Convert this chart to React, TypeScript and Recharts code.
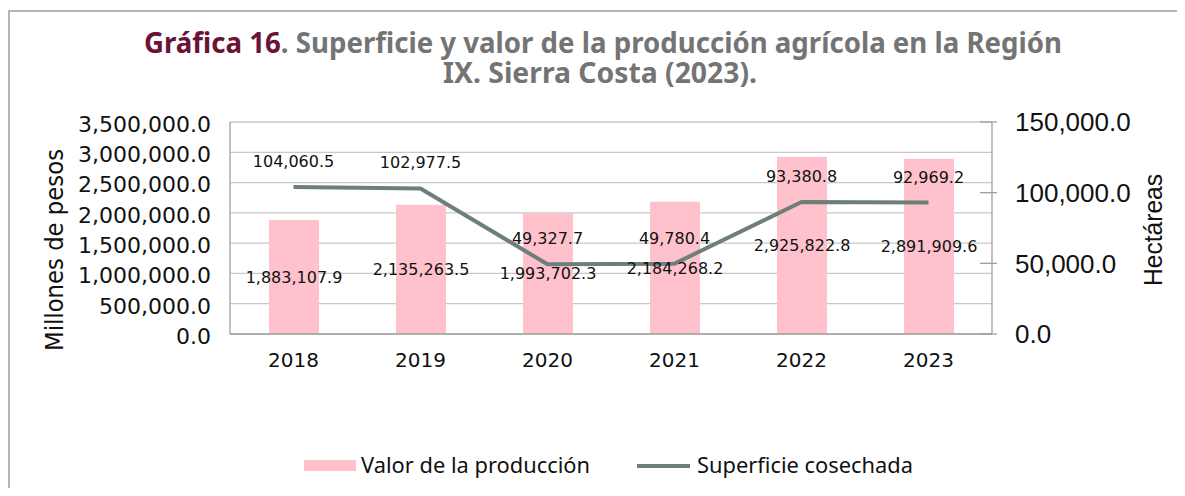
import React from 'react';
import { ComposedChart, Bar, Line, XAxis, YAxis, CartesianGrid, LabelList, Legend } from 'recharts';

const categories = ['2018', '2019', '2020', '2021', '2022', '2023'];
const valorProduccion = [1883107.9, 2135263.5, 1993702.3, 2184268.2, 2925822.8, 2891909.6];
const superficieCosechada = [104060.5, 102977.5, 49327.7, 49780.4, 93380.8, 92969.2];
const leftTicks = [0, 500000, 1000000, 1500000, 2000000, 2500000, 3000000, 3500000];
const rightTicks = [0, 50000, 100000, 150000];

const data = categories.map((c, i) => ({
  year: c,
  valor: valorProduccion[i],
  superficie: superficieCosechada[i],
}));

const fmt = (v: number) =>
  Number(v).toLocaleString('en-US', { minimumFractionDigits: 1, maximumFractionDigits: 1 });

const W = 1177;
const H = 480;
const MONO = 'DejaVu Sans';
const BAR = '#FFC2CD';
const LINE = '#6E7E7B';

const RightTick = (props: any) => {
  const { x, y, payload } = props;
  const ax = x - 23;
  return (
    <g>
      <line x1={ax - 12} x2={ax + 5} y1={y} y2={y} stroke="#a0a0a0" strokeWidth={1.3} />
      <text x={x} y={y} dy="0.355em" textAnchor="start" fontFamily="Liberation Sans" fontSize={26} fill="#111">
        {fmt(payload.value)}
      </text>
    </g>
  );
};

const LegendContent = () => (
  <svg width={W} height={30} style={{ display: 'block' }}>
    <rect x={296} y={9} width={52} height={11} fill={BAR} />
    <text x={353} y={22} fontFamily="Noto Sans" fontSize={21} fill="#111" textLength={229} lengthAdjust="spacingAndGlyphs">
      Valor de la producción
    </text>
    <line x1={629} x2={682} y1={15} y2={15} stroke={LINE} strokeWidth={4} />
    <text x={689} y={22} fontFamily="Noto Sans" fontSize={21} fill="#111" textLength={216} lengthAdjust="spacingAndGlyphs">
      Superficie cosechada
    </text>
  </svg>
);

export default function App() {
  return (
    <div style={{ position: 'relative', width: W, height: H }}>
      <div
        style={{
          position: 'absolute',
          left: 0,
          top: 2,
          width: W - 2,
          height: H - 2,
          borderLeft: '2px solid #b4b4b4',
          borderTop: '2px solid #b4b4b4',
        }}
      />
      <div style={{ position: 'absolute', left: 0, top: 0 }}>
        <ComposedChart width={W} height={H} data={data} margin={{ top: 114, right: 0, bottom: 0, left: 0 }}>
          <CartesianGrid horizontal vertical={false} stroke="#c8c8c8" strokeWidth={1.3} yAxisId="left" />
          <XAxis
            dataKey="year"
            height={154}
            tickLine={false}
            tickSize={0}
            tickMargin={19}
            axisLine={{ stroke: '#a0a0a0', strokeWidth: 1.3 }}
            tick={{ fontFamily: MONO, fontSize: 20, fill: '#111' }}
          />
          <YAxis
            yAxisId="left"
            orientation="left"
            width={222}
            domain={[0, 3500000]}
            ticks={leftTicks}
            interval={0}
            tickLine={false}
            tickSize={0}
            tickMargin={19}
            axisLine={{ stroke: '#a0a0a0', strokeWidth: 1.3 }}
            tickFormatter={fmt}
            tick={{ fontFamily: MONO, fontSize: 22, fill: '#111', dy: 2 }}
          />
          <YAxis
            yAxisId="right"
            orientation="right"
            width={193}
            domain={[0, 150000]}
            ticks={rightTicks}
            interval={0}
            tickLine={false}
            tickSize={0}
            tickMargin={23}
            axisLine={{ stroke: '#a0a0a0', strokeWidth: 1.3 }}
            tick={<RightTick />}
          />
          <Bar yAxisId="left" dataKey="valor" barSize={50} fill={BAR} isAnimationActive={false}>
            <LabelList
              dataKey="valor"
              position="center"
              formatter={fmt}
              style={{ fontFamily: MONO, fontSize: 16, fill: '#111' }}
            />
          </Bar>
          <Line
            yAxisId="right"
            type="linear"
            dataKey="superficie"
            stroke={LINE}
            strokeWidth={4}
            dot={false}
            isAnimationActive={false}
          >
            <LabelList
              dataKey="superficie"
              position="top"
              offset={20}
              formatter={fmt}
              style={{ fontFamily: MONO, fontSize: 16, fill: '#111' }}
            />
          </Line>
          <Legend
            verticalAlign="middle"
            align="center"
            layout="horizontal"
            wrapperStyle={{ top: 443, left: 0, width: W, height: 30 }}
            content={<LegendContent />}
          />
        </ComposedChart>
      </div>
      <svg width={W} height={H} style={{ position: 'absolute', left: 0, top: 0, pointerEvents: 'none' }}>
        <text
          x={136}
          y={45}
          fontFamily="Noto Sans"
          fontWeight="bold"
          fontSize={28}
          textLength={918}
          lengthAdjust="spacingAndGlyphs"
        >
          <tspan fill="#6B1238">Gráfica 16</tspan>
          <tspan fill="#747474">. Superficie y valor de la producción agrícola en la Región</tspan>
        </text>
        <text
          x={435}
          y={75}
          fontFamily="Noto Sans"
          fontWeight="bold"
          fontSize={28}
          fill="#747474"
          textLength={314}
          lengthAdjust="spacingAndGlyphs"
        >
          IX. Sierra Costa (2023).
        </text>
        <text
          transform="translate(55, 242) rotate(-90)"
          textAnchor="middle"
          fontFamily={MONO}
          fontSize={24}
          fill="#111"
          textLength={202}
          lengthAdjust="spacingAndGlyphs"
        >
          Millones de pesos
        </text>
        <text
          transform="translate(1154, 222) rotate(-90)"
          textAnchor="middle"
          fontFamily="Liberation Sans"
          fontSize={26}
          fill="#111"
          textLength={112}
          lengthAdjust="spacingAndGlyphs"
        >
          Hectáreas
        </text>
      </svg>
    </div>
  );
}
